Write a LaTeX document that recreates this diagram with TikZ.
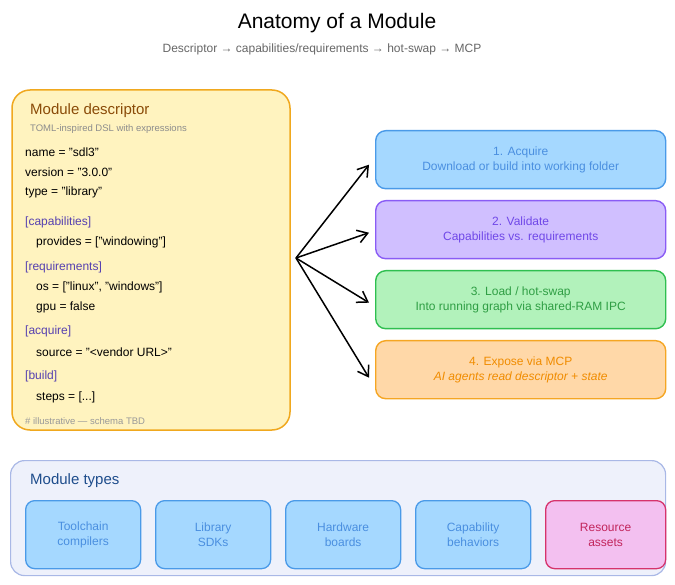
\documentclass[tikz,border=0pt]{standalone}
\usepackage{fontspec}
\setmainfont{Liberation Sans}
\usetikzlibrary{arrows.meta}
\definecolor{dfill}{HTML}{FFF3BF}\definecolor{dline}{HTML}{F0A81E}\definecolor{dtitle}{HTML}{8A4B08}
\definecolor{bfill}{HTML}{A5D8FF}\definecolor{bline}{HTML}{4A9AE8}\definecolor{btext}{HTML}{4A8FE0}
\definecolor{pfill}{HTML}{D0BFFF}\definecolor{pline}{HTML}{8A5CF5}\definecolor{ptext}{HTML}{7048E8}
\definecolor{gfill}{HTML}{B2F2BB}\definecolor{gline}{HTML}{2FBF50}\definecolor{gtext}{HTML}{2F9E44}
\definecolor{ofill}{HTML}{FFD8A8}\definecolor{oline}{HTML}{F5A623}\definecolor{otext}{HTML}{F08C00}
\definecolor{kfill}{HTML}{F3C0F0}\definecolor{kline}{HTML}{D6336C}\definecolor{ktext}{HTML}{C2255C}
\definecolor{tfill}{HTML}{EEF1FB}\definecolor{tline}{HTML}{A9B8E6}\definecolor{ttext}{HTML}{1E4D8C}
\definecolor{sec}{HTML}{5540B0}
\begin{document}
\begin{tikzpicture}[x=1pt,y=-1pt,
  stepbox/.style={draw,line width=1.4pt,rounded corners=10pt,minimum width=290pt,minimum height=58pt,align=center,font=\fontsize{12}{15}\selectfont,anchor=north west},
  typebox/.style={draw=bline,fill=bfill,text=btext,line width=1.3pt,rounded corners=9pt,minimum width=115pt,minimum height=68pt,align=center,font=\fontsize{12}{15}\selectfont,anchor=north west},
  code/.style={anchor=west,font=\fontsize{12}{14}\selectfont,inner sep=0pt},
  arr/.style={-{Straight Barb[length=10pt,width=13pt]},line width=1.5pt}]
\useasboundingbox (0,0) rectangle (675,585);
\node (title) at (337,23) {\fontsize{21}{25}\selectfont Anatomy of a Module};
\node[text=black!60] (sub) at (322,49) {\fontsize{12}{14}\selectfont Descriptor → capabilities/requirements → hot-swap → MCP};
\draw[draw=dline,fill=dfill,line width=1.5pt,rounded corners=18pt] (12,90) rectangle (290,430);
\coordinate (src) at (296,258);
\node[code,text=dtitle,font=\fontsize{15}{17}\selectfont] (dt) at (30,111) {Module descriptor};
\node[code,text=black!45,font=\fontsize{9.5}{11}\selectfont] (ds) at (30,129) {TOML-inspired DSL with expressions};
\node[code] (c1) at (25,152) {name = "sdl3"};
\node[code] (c2) at (25,172) {version = "3.0.0"};
\node[code] (c3) at (25,192) {type = "library"};
\node[code,text=sec] (c4) at (25,222) {[capabilities]};
\node[code] (c5) at (36,242) {provides = ["windowing"]};
\node[code,text=sec] (c6) at (25,267) {[requirements]};
\node[code] (c7) at (36,287) {os = ["linux", "windows"]};
\node[code] (c8) at (36,307) {gpu = false};
\node[code,text=sec] (c9) at (25,331) {[acquire]};
\node[code] (c10) at (36,352) {source = "<vendor URL>"};
\node[code,text=sec] (c11) at (25,376) {[build]};
\node[code] (c12) at (36,397) {steps = [...]};
\node[code,text=black!40,font=\fontsize{9.5}{11}\selectfont] (c13) at (25,421) {\# illustrative — schema TBD};
\node[stepbox,draw=bline,fill=bfill,text=btext] (s1) at (375,130) {1. Acquire\\Download or build into working folder};
\node[stepbox,draw=pline,fill=pfill,text=ptext] (s2) at (375,200) {2. Validate\\Capabilities vs. requirements};
\node[stepbox,draw=gline,fill=gfill,text=gtext] (s3) at (375,270) {3. Load / hot-swap\\Into running graph via shared-RAM IPC};
\node[stepbox,draw=oline,fill=ofill,text=otext] (s4) at (375,340) {4. Expose via MCP\\\itshape AI agents read descriptor + state};
\draw[arr] (src) -- ([xshift=-6pt,yshift=-5pt]s1.west);
\draw[arr] (src) -- ([xshift=-6pt,yshift=-3pt]s2.west);
\draw[arr] (src) -- ([xshift=-6pt,yshift=-3pt]s3.west);
\draw[arr] (src) -- ([xshift=-6pt,yshift=-8pt]s4.west);
\node[draw=tline,fill=tfill,line width=1.2pt,rounded corners=14pt,minimum width=655pt,minimum height=115pt,anchor=north west] (tb) at (10,460) {};
\node[code,text=ttext,font=\fontsize{15}{17}\selectfont] (tt) at (30,481) {Module types};
\node[typebox] (t1) at (25,500) {Toolchain\\compilers};
\node[typebox] (t2) at (155,500) {Library\\SDKs};
\node[typebox] (t3) at (285,500) {Hardware\\boards};
\node[typebox] (t4) at (415,500) {Capability\\behaviors};
\node[typebox,draw=kline,fill=kfill,text=ktext,minimum width=120pt] (t5) at (545,500) {Resource\\assets};
\end{tikzpicture}
\end{document}
